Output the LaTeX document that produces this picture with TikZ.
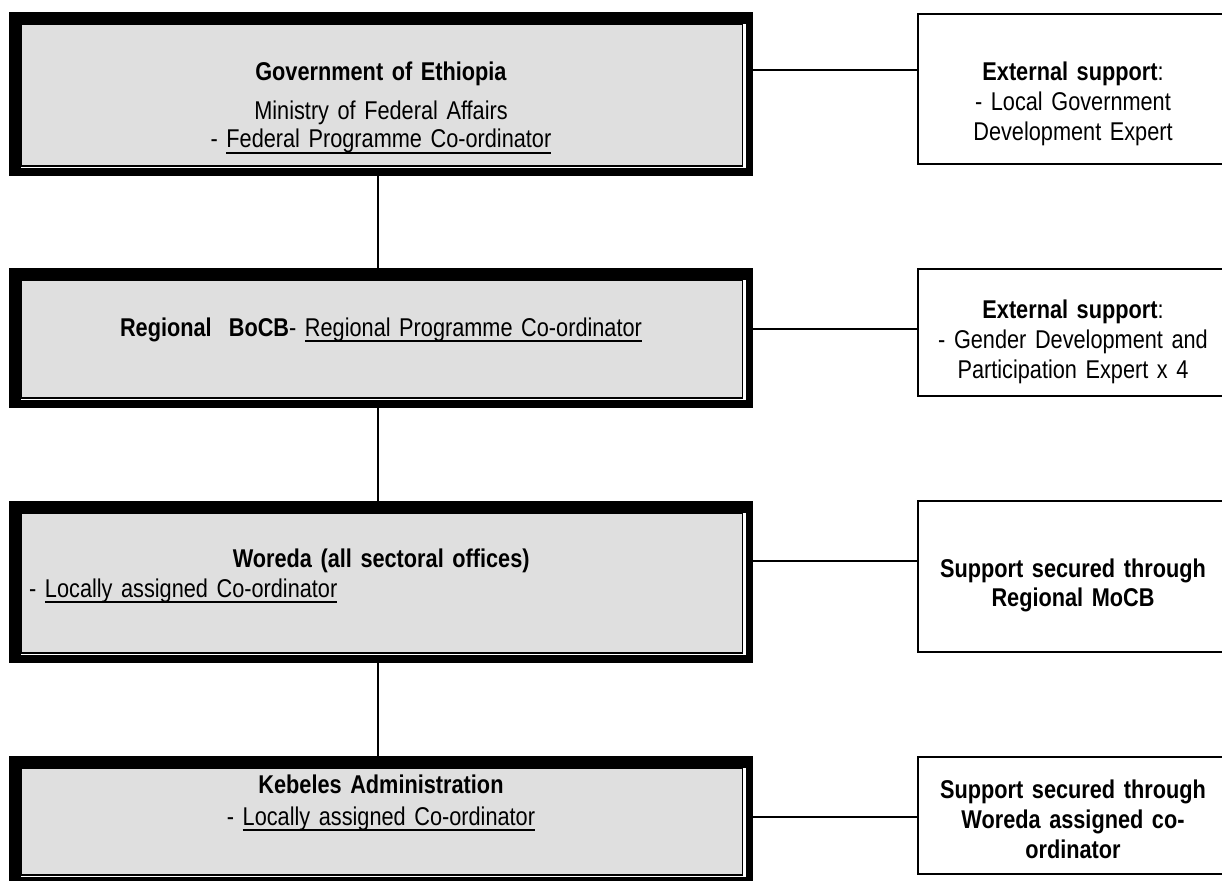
\documentclass[tikz,border=0pt]{standalone}
\usepackage{fontspec}
\setmainfont{Liberation Sans}[FakeStretch=0.845]
\usetikzlibrary{calc}
\definecolor{boxgray}{RGB}{223,223,223}
\newcommand{\myul}[1]{\setbox0=\hbox{#1}\rlap{\rule[-6.2pt]{\wd0}{1.8pt}}\box0}
\begin{document}
\begin{tikzpicture}[x=1pt, y=-1pt,
  every node/.style={font=\fontsize{25.7}{30}\selectfont},
  lbox/.style={fill=black, draw=none, inner sep=0pt, outer sep=0pt, minimum width=744pt},
  rbox/.style={draw=black, line width=2pt, inner sep=0pt, minimum width=312pt},
  conn/.style={draw=black, line width=2pt},
  ctext/.style={anchor=base, align=center, text width=#1, inner sep=0pt},
  ctext/.default=300pt]
\clip (0,0) rectangle (1222,880);
\useasboundingbox (0,0) rectangle (1222,880);
\fill[white] (0,0) rectangle (1222,880);

% left framed boxes
\node[lbox, minimum height=164pt] (b1) at (381,94) {};
\node[lbox, minimum height=140pt] (b2) at (381,338) {};
\node[lbox, minimum height=162pt] (b3) at (381,582) {};
\node[lbox, minimum height=129pt] (b4) at (381,820.5) {};
\foreach \n in {b1,b2,b3,b4}{
  \fill[white] ([xshift=12pt,yshift=-12pt]\n.north west) rectangle ([xshift=-7pt,yshift=8pt]\n.south east);
  \draw[fill=boxgray, line width=1.4pt] ([xshift=12pt,yshift=-12pt]\n.north west) rectangle ([xshift=-10.4pt,yshift=10pt]\n.south east);
}

% right boxes
\node[rbox, minimum height=150.3pt] (r1) at (1074,88.85) {};
\node[rbox, minimum height=127pt] (r2) at (1074,332.5) {};
\node[rbox, minimum height=151pt] (r3) at (1074,576.5) {};
\node[rbox, minimum height=117pt] (r4) at (1074,815.5) {};

% texts in left boxes
\node[ctext=700pt] (t1) at (381,81) {\textbf{Government of Ethiopia}\\[9pt] Ministry of Federal Affairs\\[-2pt] - \myul{Federal Programme Co-ordinator}};
\node[ctext=700pt] (t2) at (381,336) {\textbf{Regional\ \ BoCB}- \myul{Regional Programme Co-ordinator}};
\node[anchor=base west, align=left, text width=704pt, inner sep=0pt] (t3) at (29,567) {\makebox[\linewidth]{\textbf{Woreda (all sectoral offices)}}\\- \myul{Locally assigned Co-ordinator}};
\node[ctext=700pt] (t4) at (381,793) {\textbf{Kebeles Administration}\\[2pt] - \myul{Locally assigned Co-ordinator}};

% texts in right boxes
\node[ctext] (s1) at (1073,81) {\textbf{External support}:\\- Local Government\\Development Expert};
\node[ctext] (s2) at (1073,318) {\textbf{External support}:\\- Gender Development and\\Participation Expert x 4};
\node[ctext] (s3) at (1073,577) {\textbf{Support secured through}\\[-1pt]\textbf{Regional MoCB}};
\node[ctext] (s4) at (1073,798) {\textbf{Support secured through\\Woreda assigned co-\\ordinator}};

% connectors
\coordinate (k1) at (0,70);
\coordinate (k2) at (0,329);
\coordinate (k3) at (0,561);
\coordinate (k4) at (0,817);
\draw[conn] (b1.east |- k1) -- (r1.west |- k1);
\draw[conn] (b2.east |- k2) -- (r2.west |- k2);
\draw[conn] (b3.east |- k3) -- (r3.west |- k3);
\draw[conn] (b4.east |- k4) -- (r4.west |- k4);
\draw[conn] ([xshift=-3pt]b1.south) -- ([xshift=-3pt]b2.north);
\draw[conn] ([xshift=-3pt]b2.south) -- ([xshift=-3pt]b3.north);
\draw[conn] ([xshift=-3pt]b3.south) -- ([xshift=-3pt]b4.north);
\end{tikzpicture}
\end{document}
